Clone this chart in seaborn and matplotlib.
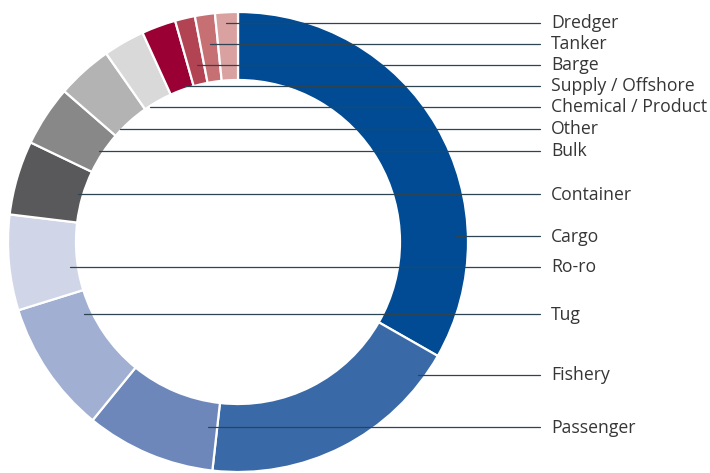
import numpy as np
import seaborn as sns
import matplotlib.pyplot as plt

# Ship types, clockwise from 12 o'clock, share in percent
categories = ["Cargo", "Fishery", "Passenger", "Tug", "Ro-ro", "Container", "Bulk",
              "Other", "Chemical / Product", "Supply / Offshore", "Barge", "Tanker", "Dredger"]
shares = [33.2, 18.5, 9.1, 9.3, 6.7, 5.2, 4.25, 3.9, 2.9, 2.4, 1.4, 1.4, 1.6]
colors = ["#004b93", "#3a69a8", "#6d87bb", "#a1afd2", "#d0d6e8", "#59595b", "#888888",
          "#b3b3b3", "#d9d9da", "#9b0034", "#b24352", "#c77074", "#d9a1a0"]

# Label layout (pixels, top-left origin): right-hand label column, top to bottom
label_order = ["Dredger", "Tanker", "Barge", "Supply / Offshore", "Chemical / Product",
               "Other", "Bulk", "Container", "Cargo", "Ro-ro", "Tug", "Fishery", "Passenger"]
label_y = [23, 44, 65, 86, 107, 129, 151, 194, 236, 267, 314, 375, 427]
leader_x = [226, 210, 197, 185, 150, 120, 99, 78, 455, 70, 84, 418, 208]

W, H = 710, 473
CX, CY, R_OUT, R_IN = 238, 242, 230, 162

sns.set_style("white")
plt.rcParams["font.family"] = ["Open Sans", "DejaVu Sans"]

fig = plt.figure(figsize=(W / 100, H / 100), dpi=100)
ax = fig.add_axes([0, 0, 1, 1])

ax.pie(
    shares,
    colors=colors,
    startangle=90,
    counterclock=False,
    center=(CX, H - CY),
    radius=R_OUT,
    wedgeprops={"width": R_OUT - R_IN, "edgecolor": "white", "linewidth": 1.6},
)

for name, y, x0 in zip(label_order, label_y, leader_x):
    ax.plot([x0, 540], [H - y, H - y], color="#2d4552", linewidth=0.9, zorder=3)
    ax.text(551, H - y - 0.5, name, fontsize=12.7, color="#363636", va="center", ha="left")

ax.set_aspect("auto")
ax.set_xlim(0, W)
ax.set_ylim(0, H)
ax.axis("off")

fig.savefig("out.png", dpi=100)
